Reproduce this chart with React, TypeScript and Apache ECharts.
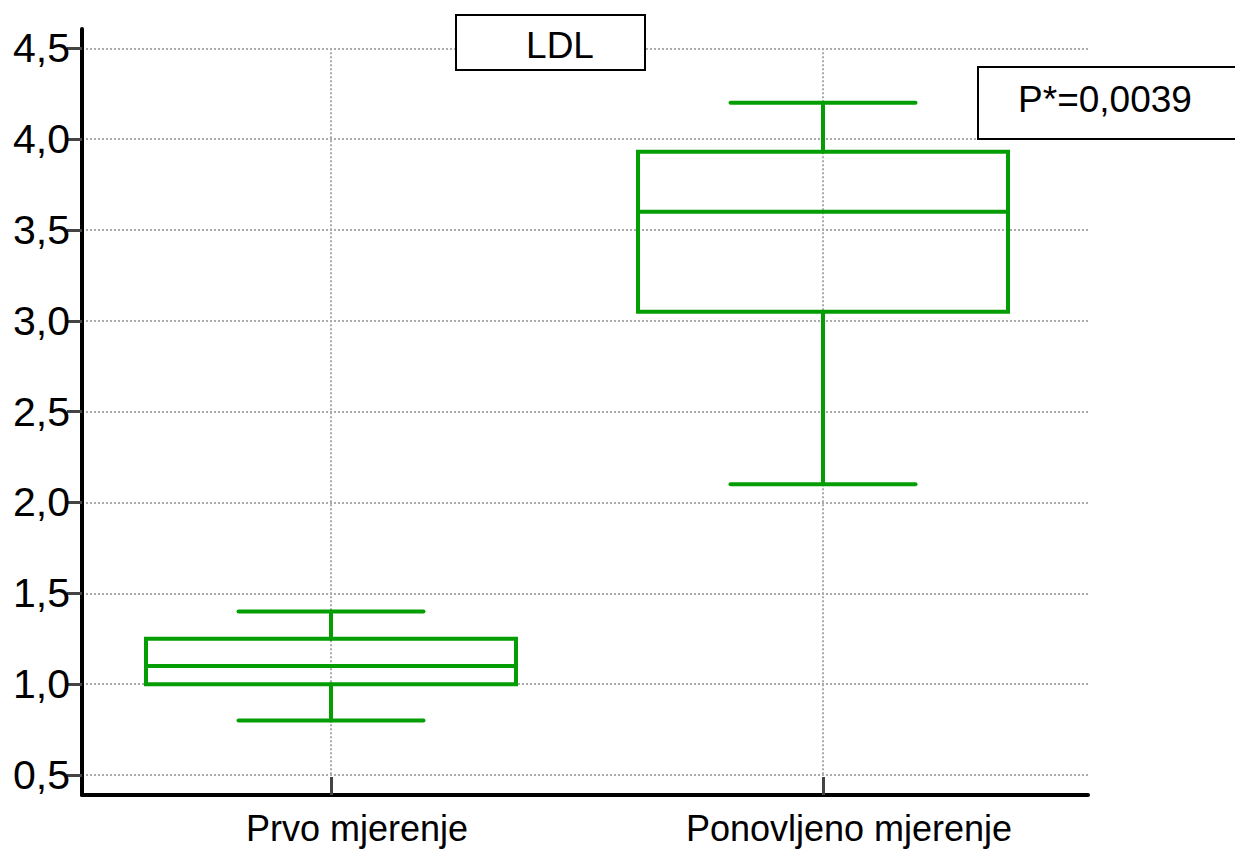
import React, { useEffect, useRef } from "react";
import * as echarts from "echarts";

const categories = ["Prvo mjerenje", "Ponovljeno mjerenje"];
const categoryPositions = [1, 2];
// [position, low whisker, Q1, median, Q3, high whisker]
const boxValues = [
  [1, 0.8, 1.0, 1.1, 1.25, 1.4],
  [2, 2.1, 3.05, 3.6, 3.93, 4.2],
];
const yTicks = [0.5, 1.0, 1.5, 2.0, 2.5, 3.0, 3.5, 4.0, 4.5];
const titleText = "LDL";
const pText = "P*=0,0039";

const GREEN = "#049d04";
const FONT = "'Liberation Sans', Arial, sans-serif";
const BOX_HALF = 0.376;
const X_MIN = 0.4939;
const X_MAX = 2.5386;

export default function App() {
  const ref = useRef<HTMLDivElement>(null);
  useEffect(() => {
    document.body.style.margin = "0";
    if (!ref.current) return;
    const chart = echarts.init(ref.current, null, { renderer: "svg" });
    const fmt = (v: number) => v.toFixed(1).replace(".", ",");
    const option: any = {
      animation: false,
      backgroundColor: "#fff",
      grid: [
        { left: 82, right: 147, top: 48.3, height: 726.7 },
        { left: 82, right: 147, top: 29, bottom: 55 },
      ],
      xAxis: [
        {
          type: "value",
          gridIndex: 0,
          min: X_MIN,
          max: X_MAX,
          axisLine: { show: false },
          axisTick: { show: false, customValues: categoryPositions },
          axisLabel: { show: false },
          splitLine: {
            show: true,
            lineStyle: { type: "dotted", color: "#aaa", width: 2 },
          },
        },
        {
          type: "value",
          gridIndex: 1,
          min: X_MIN,
          max: X_MAX,
          axisLine: { show: true, onZero: false, lineStyle: { color: "#000", width: 4 } },
          axisTick: {
            show: true,
            inside: true,
            length: 18,
            customValues: categoryPositions,
            lineStyle: { color: "#444", width: 3 },
          },
          axisLabel: {
            show: true,
            customValues: categoryPositions,
            formatter: (v: number) => categories[categoryPositions.indexOf(v)] ?? "",
            fontSize: 36,
            fontFamily: FONT,
            color: "#000",
            margin: 15,
            padding: [0, 0, 0, 52],
          },
          splitLine: { show: false },
        },
      ],
      yAxis: [
        {
          type: "value",
          gridIndex: 0,
          min: 0.5,
          max: 4.5,
          axisLine: { show: false },
          axisTick: {
            show: true,
            length: 15,
            customValues: yTicks,
            lineStyle: { color: "#444", width: 3 },
          },
          axisLabel: {
            show: true,
            customValues: yTicks,
            formatter: fmt,
            fontSize: 41,
            fontFamily: FONT,
            color: "#000",
            margin: 12,
          },
          splitLine: {
            show: true,
            lineStyle: { type: "dotted", color: "#aaa", width: 2 },
          },
        },
        {
          type: "value",
          gridIndex: 1,
          min: 0,
          max: 1,
          axisLine: { show: true, onZero: false, lineStyle: { color: "#000", width: 4 } },
          axisTick: { show: false },
          axisLabel: { show: false },
          splitLine: { show: false },
        },
      ],
      series: [
        {
          type: "custom",
          xAxisIndex: 0,
          yAxisIndex: 0,
          encode: { x: 0, y: [1, 2, 3, 4, 5] },
          data: boxValues,
          z: 5,
          renderItem: (params: any, api: any) => {
            const x = api.value(0);
            const low = api.coord([x, api.value(1)]);
            const q1 = api.coord([x, api.value(2)]);
            const med = api.coord([x, api.value(3)]);
            const q3 = api.coord([x, api.value(4)]);
            const high = api.coord([x, api.value(5)]);
            const hb = api.size([BOX_HALF, 0])[0];
            const hc = hb / 2;
            const cx = low[0];
            const style = { stroke: GREEN, lineWidth: 4, fill: null, lineCap: "round" };
            const ln = (x1: number, y1: number, x2: number, y2: number) => ({
              type: "line",
              shape: { x1, y1, x2, y2 },
              style,
            });
            return {
              type: "group",
              children: [
                ln(cx, low[1], cx, q1[1]),
                ln(cx, q3[1], cx, high[1]),
                ln(cx - hc, low[1], cx + hc, low[1]),
                ln(cx - hc, high[1], cx + hc, high[1]),
                {
                  type: "rect",
                  shape: { x: cx - hb, y: q3[1], width: hb * 2, height: q1[1] - q3[1] },
                  style: { stroke: GREEN, lineWidth: 4, fill: "rgba(255,255,255,0)" },
                },
                ln(cx - hb, med[1], cx + hb, med[1]),
              ],
            };
          },
        },
      ],
      graphic: [
        {
          type: "rect",
          z: 100,
          shape: { x: 456, y: 15, width: 189, height: 55 },
          style: { fill: "#fff", stroke: "#000", lineWidth: 2 },
        },
        {
          type: "text",
          z: 101,
          x: 560,
          y: 45,
          style: {
            text: titleText,
            fontSize: 37,
            fontFamily: FONT,
            fill: "#000",
            align: "center",
            verticalAlign: "middle",
          },
        },
        {
          type: "rect",
          z: 100,
          shape: { x: 978, y: 67, width: 280, height: 72 },
          style: { fill: "#fff", stroke: "#000", lineWidth: 2 },
        },
        {
          type: "text",
          z: 101,
          x: 1105,
          y: 99,
          style: {
            text: pText,
            fontSize: 37,
            fontFamily: FONT,
            fill: "#000",
            align: "center",
            verticalAlign: "middle",
          },
        },
      ],
    };
    chart.setOption(option);
    return () => chart.dispose();
  }, []);
  return <div ref={ref} style={{ width: 1235, height: 850 }} />;
}
